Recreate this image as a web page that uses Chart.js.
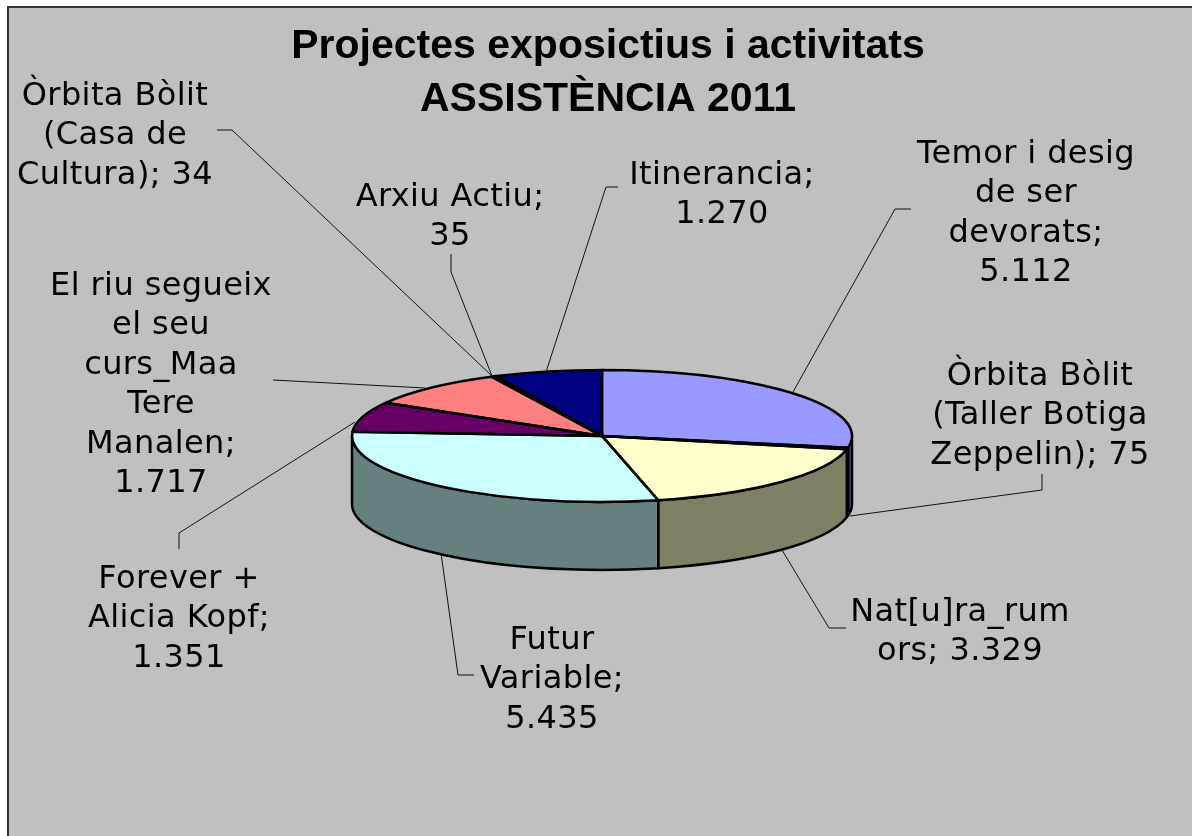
<!DOCTYPE html>
<html>
<head>
<meta charset="utf-8">
<title>Projectes expositius i activitats</title>
<script src="https://cdn.jsdelivr.net/npm/chart.js@4/dist/chart.umd.min.js"></script>
<style>
  body { margin: 0; background: #fff; }
  canvas { display: block; }
</style>
</head>
<body>
<canvas id="myChart" width="1192" height="836"></canvas>
<script>
/* 3D looking pie: the slices are normal Chart.js arcs, squashed by a plugin. */

let categories = ['Temor i desig de ser devorats', 'Òrbita Bòlit (Taller Botiga Zeppelin)', 'Nat[u]ra_rumors',
  'Futur Variable', 'Forever + Alicia Kopf', 'El riu segueix el seu curs_Maa Tere Manalen',
  'Arxiu Actiu', 'Òrbita Bòlit (Casa de Cultura)', 'Itinerancia'];
let values = [5112, 75, 3329, 5435, 1351, 1717, 35, 34, 1270];
let titleLines = ['Projectes exposictius i activitats', 'ASSISTÈNCIA 2011'];

let topColors = ['#9999FF', '#993366', '#FFFFCC', '#CCFFFF', '#660066', '#FF8080', '#0066CC', '#CCCCFF', '#000080'];
let wallColors = ['#4D4D80', '#4D1A33', '#808066', '#668080', '#330033', '#804040', '#003366', '#666680', '#000040'];

let labelLines = [
  ['Temor i desig', 'de ser', 'devorats;', '5.112'],
  ['Òrbita Bòlit', '(Taller Botiga', 'Zeppelin); 75'],
  ['Nat[u]ra_rum', 'ors; 3.329'],
  ['Futur', 'Variable;', '5.435'],
  ['Forever +', 'Alicia Kopf;', '1.351'],
  ['El riu segueix', 'el seu', 'curs_Maa', 'Tere', 'Manalen;', '1.717'],
  ['Arxiu Actiu;', '35'],
  ['Òrbita Bòlit', '(Casa de', 'Cultura); 34'],
  ['Itinerancia;', '1.270']
];
// centre x and first baseline y of every label
let labelAnchors = [[1026, 163], [1040, 385], [960, 621], [552, 649], [179, 588], [161, 295], [450, 206], [115, 105], [722, 184]];
let leaderLines = [
  [[911, 209], [895, 209], [793, 392]],
  [[1042, 474], [1042, 490], [850, 516]],
  [[846, 628], [829, 628], [782, 550]],
  [[474, 675], [458, 675], [441, 553]],
  [[179, 549], [179, 533], [355, 422]],
  [[273, 380], [425, 388]],
  [[451, 254], [451, 272], [492, 376]],
  [[217, 130], [232, 130], [492, 376]],
  [[618, 187], [606, 187], [546, 372]]
];

const squash = 66 / 250;
const depth = 68;
const labelFont = '32px "DejaVu Sans"';
const lineGap = 39.4;

function sectorPath(ctx, arc) {
  ctx.beginPath();
  ctx.moveTo(arc.x, arc.y);
  ctx.ellipse(arc.x, arc.y, arc.outerRadius, arc.outerRadius * squash, 0, arc.startAngle, arc.endAngle);
  ctx.closePath();
}

let pie3d = {
  id: 'pie3d',
  afterLayout(chart) {
    // title sits a bit right of the pie in the original
    chart.chartArea.right -= 12;
    chart.chartArea.width -= 12;
  },
  beforeDraw(chart) {
    let ctx = chart.ctx;
    ctx.save();
    ctx.fillStyle = '#C0C0C0';
    ctx.strokeStyle = '#333';
    ctx.lineWidth = 2;
    ctx.fillRect(8, 7, 1184, 829);
    ctx.beginPath();
    ctx.moveTo(8, 836);
    ctx.lineTo(8, 7);
    ctx.lineTo(1192, 7);
    ctx.stroke();
    ctx.restore();
  },
  beforeDatasetsDraw(chart) {
    let ctx = chart.ctx;
    let arcs = chart.getDatasetMeta(0).data;
    // side walls, only the front half can be seen
    ctx.save();
    ctx.strokeStyle = '#000';
    ctx.lineWidth = 2.5;
    ctx.lineJoin = 'round';
    arcs.forEach((arc, i) => {
      let a = Math.max(arc.startAngle, 0);
      let b = Math.min(arc.endAngle, Math.PI);
      if (b <= a) return;
      let rx = arc.outerRadius;
      ctx.beginPath();
      ctx.ellipse(arc.x, arc.y, rx, rx * squash, 0, a, b);
      ctx.ellipse(arc.x, arc.y + depth, rx, rx * squash, 0, b, a, true);
      ctx.closePath();
      ctx.fillStyle = wallColors[i];
      ctx.fill();
      ctx.stroke();
    });
    ctx.restore();
    // the library draws the top face through this transform
    let cx = arcs[0].x, cy = arcs[0].y;
    ctx.save();
    ctx.translate(cx, cy);
    ctx.scale(1, squash);
    ctx.translate(-cx, -cy);
  },
  afterDatasetsDraw(chart) {
    let ctx = chart.ctx;
    ctx.restore();
    ctx.save();
    ctx.strokeStyle = '#000';
    ctx.lineWidth = 2.5;
    ctx.lineJoin = 'round';
    chart.getDatasetMeta(0).data.forEach((arc) => {
      sectorPath(ctx, arc);
      ctx.stroke();
    });
    // leader lines
    ctx.lineWidth = 1;
    ctx.strokeStyle = '#111';
    leaderLines.forEach((pts) => {
      ctx.beginPath();
      pts.forEach((p, i) => i ? ctx.lineTo(p[0], p[1]) : ctx.moveTo(p[0], p[1]));
      ctx.stroke();
    });
    // labels
    ctx.fillStyle = '#000';
    ctx.font = labelFont;
    ctx.letterSpacing = '0.4px';
    ctx.textAlign = 'center';
    ctx.textBaseline = 'alphabetic';
    labelLines.forEach((lines, i) => {
      lines.forEach((line, j) => {
        ctx.fillText(line, labelAnchors[i][0], labelAnchors[i][1] + j * lineGap);
      });
    });
    ctx.restore();
  }
};

let ctx = document.getElementById('myChart').getContext('2d');

let myChart = new Chart(ctx, {
  type: 'pie',
  data: {
    labels: categories,
    datasets: [{
      data: values,
      backgroundColor: topColors,
      borderWidth: 0,
      radius: 250
    }]
  },
  options: {
    responsive: false,
    animation: false,
    layout: {
      padding: { left: 24, bottom: 90 }
    },
    plugins: {
      legend: { display: false },
      tooltip: { enabled: false },
      title: {
        display: true,
        text: titleLines,
        color: '#000',
        font: { family: '"Liberation Sans"', size: 41, weight: 'bold', lineHeight: 1.29 },
        padding: { top: 20, bottom: 0 }
      }
    }
  },
  plugins: [pie3d]
});
</script>
</body>
</html>
